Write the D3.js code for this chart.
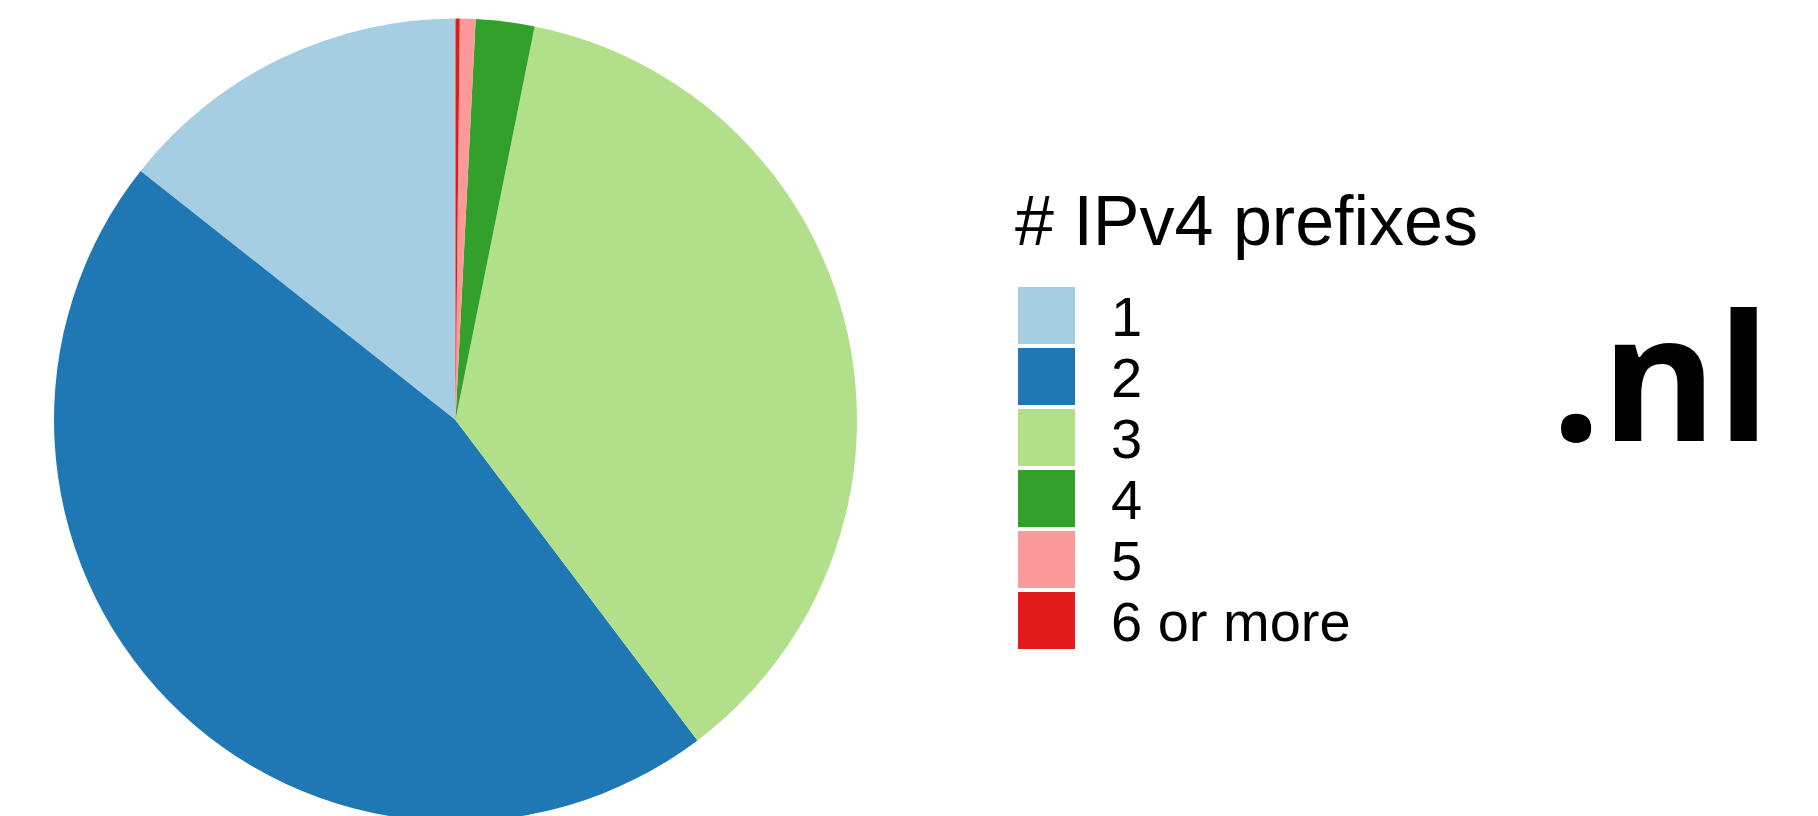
<!DOCTYPE html>
<html>
<head>
<meta charset="utf-8">
<script src="https://cdn.jsdelivr.net/npm/d3@7"></script>
<style>
  html, body { margin: 0; padding: 0; background: #fff; }
  svg { display: block; }
</style>
</head>
<body>
<svg id="chart" width="1818" height="816"></svg>
<script>
// ---- data ----
const categories = ["1", "2", "3", "4", "5", "6 or more"];
const shares = [14.35, 45.95, 36.55, 2.36, 0.63, 0.17]; // percent of domains
const colors = ["#a6cee3", "#1f78b4", "#b2df8a", "#33a02c", "#fb9a99", "#e31a1c"];
const legendTitle = "# IPv4 prefixes";
const logoText = ".nl";

// ---- layout ----
const W = 1818, H = 816;
const cx = 455.5, cy = 420, R = 401.5;

const svg = d3.select("#chart");
const color = d3.scaleOrdinal(categories, colors);

const data = categories.map((c, i) => ({ cat: c, value: shares[i] }));

const pie = d3.pie()
  .sort(null)
  .value(d => d.value)
  .startAngle(0)
  .endAngle(-2 * Math.PI);

const arc = d3.arc().innerRadius(0).outerRadius(R);

svg.append("g")
  .attr("transform", `translate(${cx},${cy})`)
  .selectAll("path")
  .data(pie(data))
  .join("path")
  .attr("d", arc)
  .attr("fill", d => color(d.data.cat));

// ---- legend ----
const legend = svg.append("g").attr("font-family", "'Liberation Sans', Arial, Helvetica, sans-serif");

legend.append("text")
  .attr("x", 1015)
  .attr("y", 245)
  .attr("font-size", 70)
  .attr("fill", "#000")
  .text(legendTitle);

const y = d3.scaleBand().domain(categories).range([287, 287 + 61 * categories.length]).paddingInner(0);

const items = legend.selectAll("g.item")
  .data(categories)
  .join("g")
  .attr("class", "item")
  .attr("transform", d => `translate(0,${y(d)})`);

items.append("rect")
  .attr("x", 1018)
  .attr("y", 0)
  .attr("width", 57)
  .attr("height", 57)
  .attr("fill", d => color(d));

items.append("text")
  .attr("x", 1111)
  .attr("y", 28.5 + 20)
  .attr("font-size", 56)
  .attr("fill", "#000")
  .text(d => d);

// ---- logo ----
svg.append("text")
  .attr("x", 1551)
  .attr("y", 441)
  .attr("font-family", "'Open Sans', sans-serif")
  .attr("font-weight", 700)
  .attr("font-size", 176)
  .attr("fill", "#000")
  .text(logoText);
</script>
</body>
</html>
